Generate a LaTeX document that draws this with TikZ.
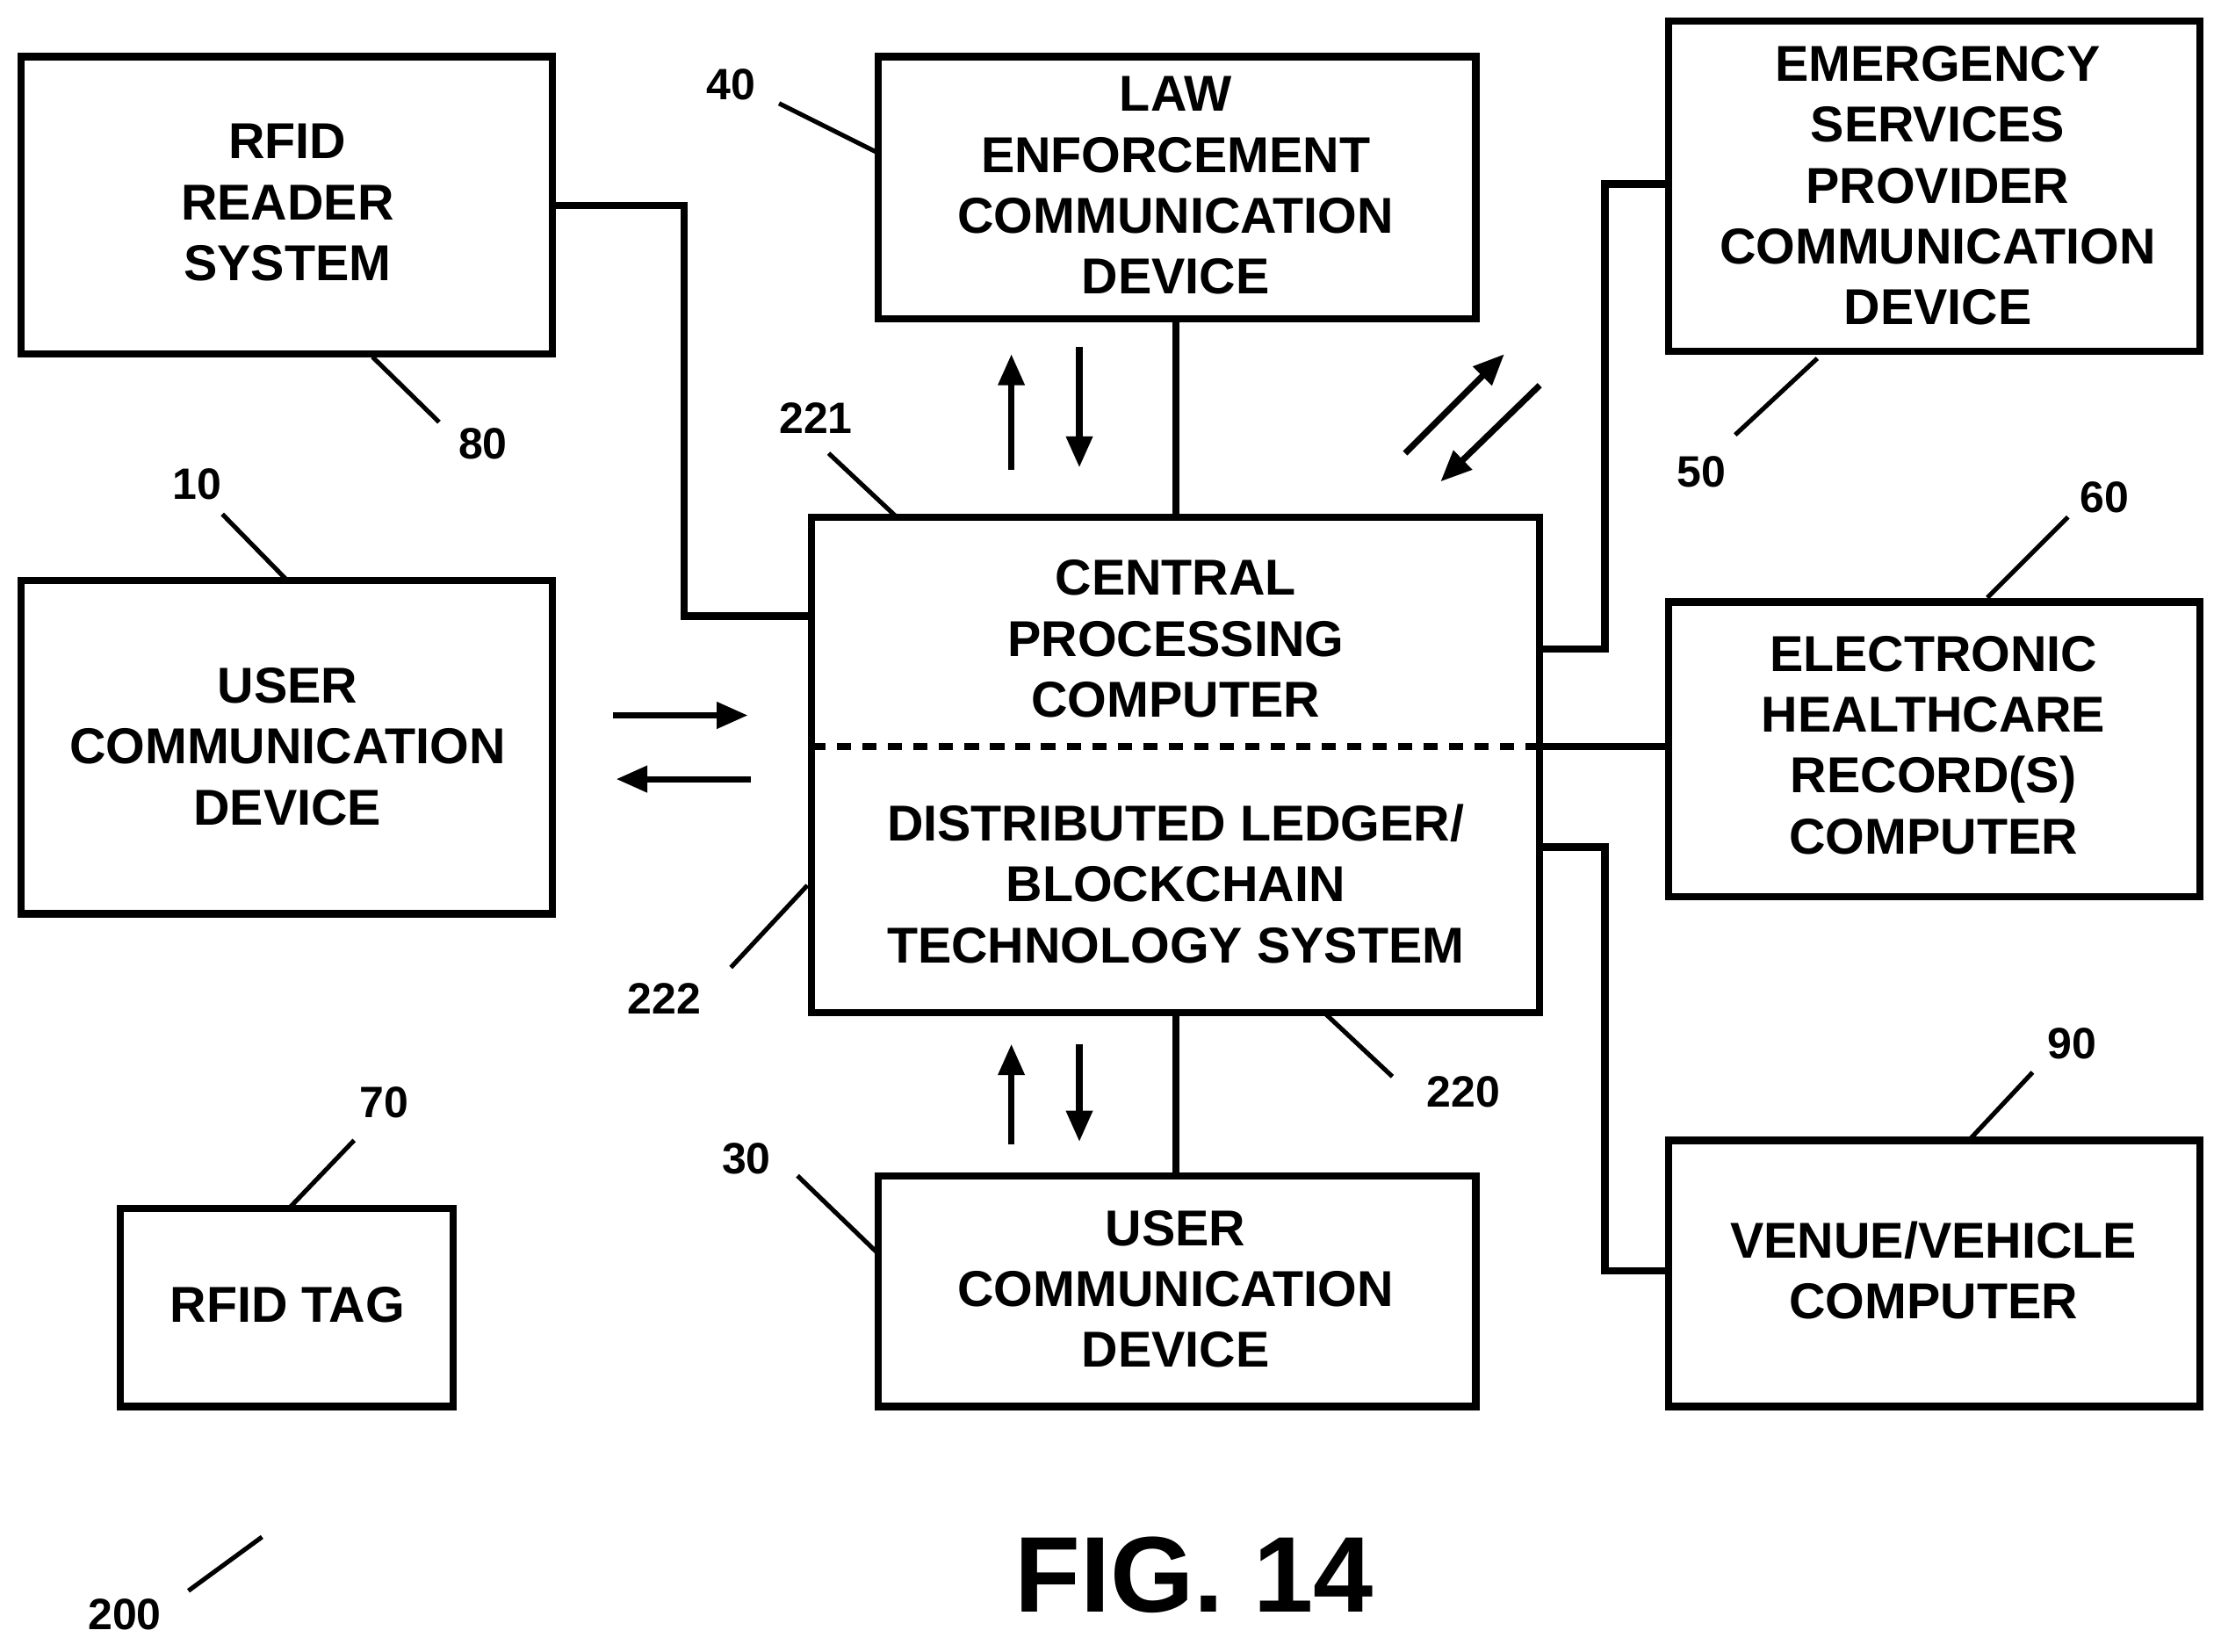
\documentclass[tikz,border=0pt]{standalone}
\usepackage{fontspec}
\setmainfont{Liberation Sans}
\usetikzlibrary{arrows.meta}
\begin{document}
\begin{tikzpicture}[x=0.5pt,y=-0.5pt,
 box/.style={draw,line width=2.6pt},
 ln/.style={line width=2.6pt},
 ld/.style={line width=1.6pt},
 arr/.style={line width=2.2pt,-{Triangle[length=11pt,width=9pt]}},
 tx/.style={font=\bfseries\fontsize{17.8}{21.5}\selectfont,align=center},
 lb/.style={font=\bfseries\fontsize{15.5}{18}\selectfont}]
\useasboundingbox (0,0) rectangle (1568,1166);
\draw[box] (15,40) rectangle (390,250); \node[tx] (rr) at (203,143) {RFID\\READER\\SYSTEM};
\draw[box] (620,40) rectangle (1042,225); \node[tx] (le) at (830,131) {LAW\\ENFORCEMENT\\COMMUNICATION\\DEVICE};
\draw[box] (1178,15) rectangle (1553,248); \node[tx] (es) at (1368,131) {EMERGENCY\\SERVICES\\PROVIDER\\COMMUNICATION\\DEVICE};
\draw[box] (15,410) rectangle (390,645); \node[tx] (u10) at (203,527) {USER\\COMMUNICATION\\DEVICE};
\draw[box] (573,365) rectangle (1087,715);
\node[tx] (cpc) at (830,451) {CENTRAL\\PROCESSING\\COMPUTER};
\node[tx] (dl) at (830,624) {DISTRIBUTED LEDGER/\\BLOCKCHAIN\\TECHNOLOGY SYSTEM};
\draw[line width=2.6pt,dash pattern=on 5pt off 4pt] (573,527) -- (1087,527);
\draw[box] (1178,425) rectangle (1553,633); \node[tx] (ehr) at (1365,526) {ELECTRONIC\\HEALTHCARE\\RECORD(S)\\COMPUTER};
\draw[box] (85,853) rectangle (320,993); \node[tx] (tag) at (203,921) {RFID TAG};
\draw[box] (620,830) rectangle (1042,993); \node[tx] (u30) at (830,910) {USER\\COMMUNICATION\\DEVICE};
\draw[box] (1178,805) rectangle (1553,993); \node[tx] (ven) at (1365,897) {VENUE/VEHICLE\\COMPUTER};
\node[font=\bfseries\fontsize{38}{40}\selectfont] (fig) at (843,1112) {FIG. 14};
% connectors
\draw[ln] (390,145) -- (483,145) -- (483,435) -- (573,435);
\draw[ln] (830,225) -- (830,365);
\draw[ln] (1087,458) -- (1133,458) -- (1133,130) -- (1178,130);
\draw[ln] (1087,527) -- (1178,527);
\draw[ln] (1087,598) -- (1133,598) -- (1133,897) -- (1178,897);
\draw[ln] (830,715) -- (830,830);
% arrows
\draw[arr] (714,332) -- (714,250); \draw[arr] (762,245) -- (762,330);
\draw[arr] (992,320) -- (1062,250); \draw[arr] (1087,272) -- (1017,340);
\draw[arr] (433,505) -- (528,505); \draw[arr] (530,550) -- (435,550);
\draw[arr] (714,808) -- (714,737); \draw[arr] (762,737) -- (762,806);
% labels
\node[lb] at (516,60) {40}; \draw[ld] (550,73) -- (620,108);
\node[lb] at (341,313) {80}; \draw[ld] (263,252) -- (310,298);
\node[lb] at (576,295) {221}; \draw[ld] (585,320) -- (633,365);
\node[lb] at (139,342) {10}; \draw[ld] (157,363) -- (203,410);
\node[lb] at (469,705) {222}; \draw[ld] (516,683) -- (570,625);
\node[lb] at (1033,771) {220}; \draw[ld] (935,715) -- (983,760);
\node[lb] at (1201,333) {50}; \draw[ld] (1225,307) -- (1283,253);
\node[lb] at (1486,351) {60}; \draw[ld] (1460,365) -- (1403,422);
\node[lb] at (1463,737) {90}; \draw[ld] (1435,757) -- (1390,805);
\node[lb] at (271,778) {70}; \draw[ld] (250,805) -- (205,852);
\node[lb] at (527,818) {30}; \draw[ld] (563,830) -- (620,885);
\node[lb] at (88,1140) {200}; \draw[ld] (133,1123) -- (185,1085);
\end{tikzpicture}
\end{document}
